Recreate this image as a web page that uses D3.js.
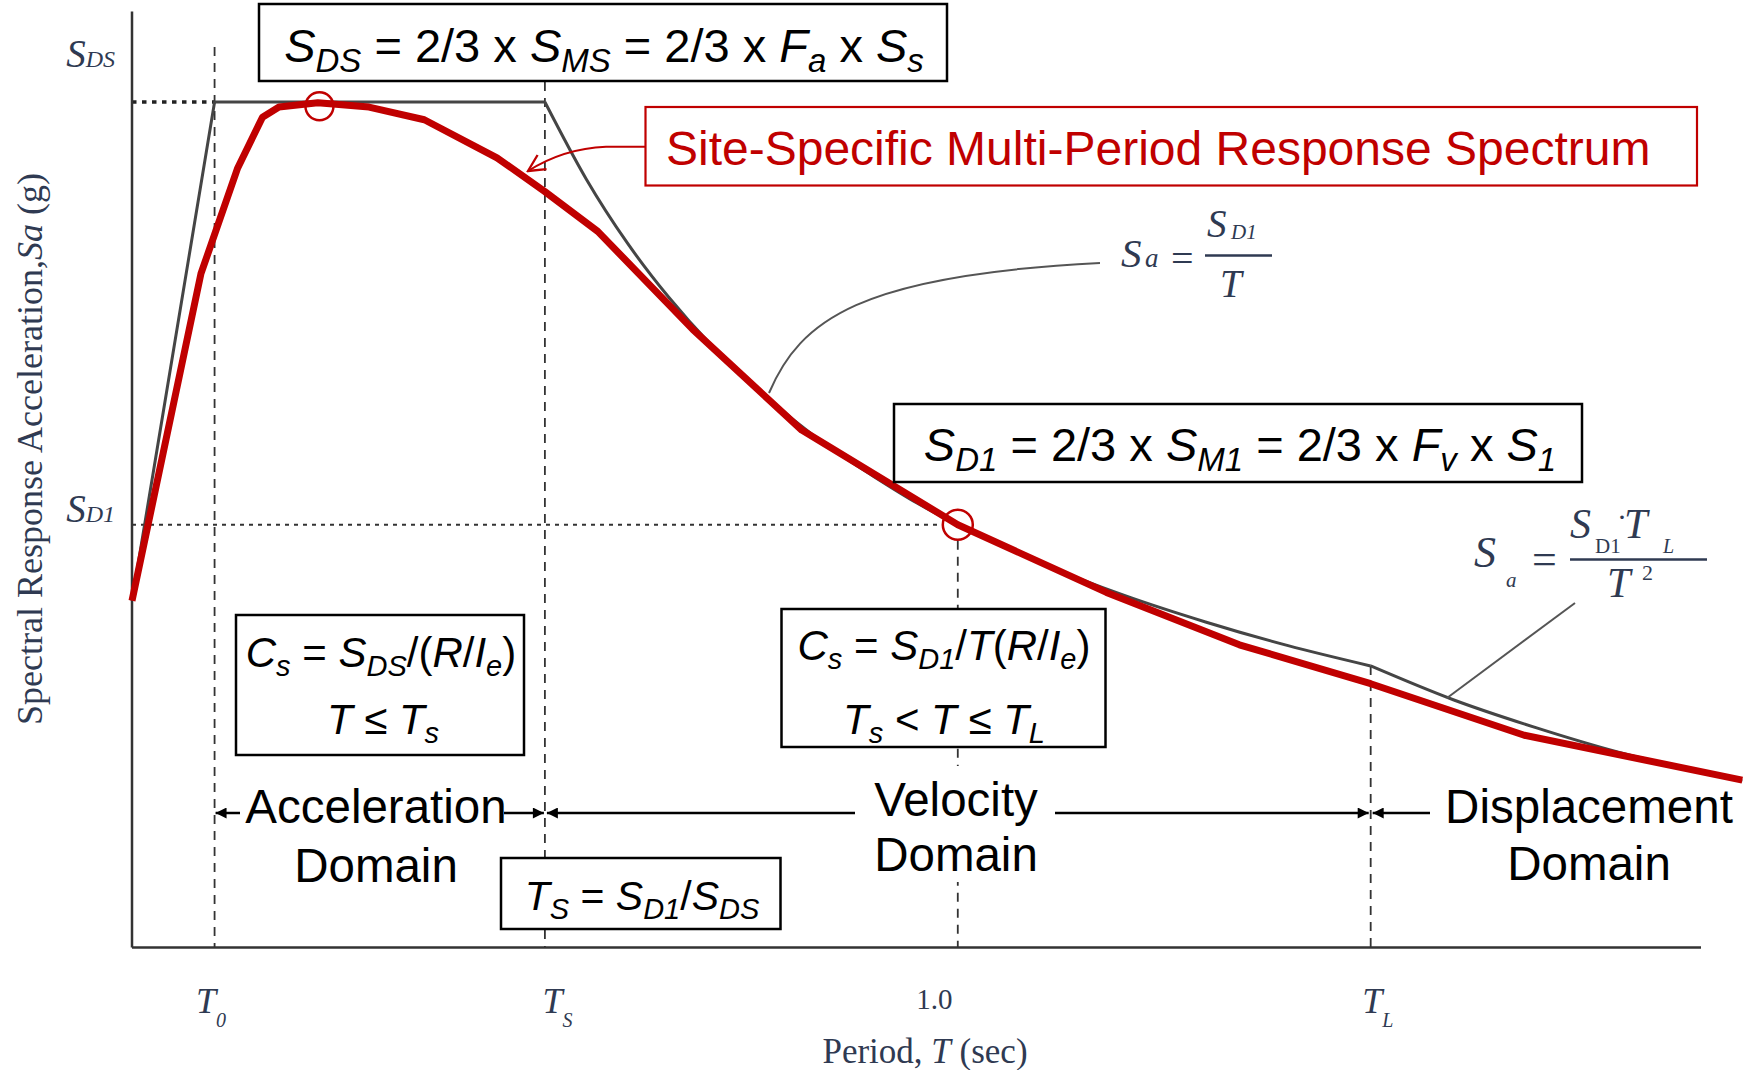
<!DOCTYPE html>
<html><head><meta charset="utf-8">
<script src="https://cdn.jsdelivr.net/npm/d3@7"></script>
<style>
html,body{margin:0;padding:0;background:#fff;}
svg{display:block;}
</style></head><body>
<svg id="chart" width="1752" height="1070"></svg>
<script>
// ---------- data ----------
const SDS = 1.0;                 // short-period design level (normalised)
const SD1 = 0.5;                 // 1-second design level
const T0 = 0.1, TS = 0.5, T1 = 1.0, TL = 1.5;
const periodTicks = [T0, TS, T1, TL];
const tickLabels = [[["T","i"],["0","ib"]], [["T","i"],["S","ib"]], [["1.0","n"]], [["T","i"],["L","ib"]]];
const xMax = 1.9, yMax = 1.107;

// code design spectrum (gray): rising branch + plateau, then descending branch
const designRiseT  = [0, 0.1, 0.5];
const designRiseSa = [0.41, 1.0, 1.0];
const designT  = [0.5, 0.55, 0.6, 0.65, 0.7, 0.75, 0.8, 0.85, 0.9, 0.95, 1.0, 1.1, 1.2, 1.3, 1.4, 1.5];
const designSa = [1.0, 0.909, 0.833, 0.769, 0.714, 0.667, 0.625, 0.588, 0.556, 0.526, 0.5, 0.455, 0.417, 0.385, 0.357, 0.333];
const designTailT  = [1.5, 1.6, 1.7, 1.8, 1.9, 1.95];
const designTailSa = [0.333, 0.293, 0.260, 0.231, 0.208, 0.197];

// site-specific multi-period spectrum (red)
const siteT  = [0, 0.0835, 0.128, 0.158, 0.178, 0.225, 0.287, 0.354, 0.442, 0.5, 0.564, 0.679, 0.811, 1.0, 1.18, 1.341, 1.5, 1.686, 1.95];
const siteSa = [0.41, 0.797, 0.922, 0.982, 0.994, 0.999, 0.994, 0.979, 0.934, 0.894, 0.847, 0.731, 0.612, 0.5, 0.42, 0.358, 0.312, 0.251, 0.198];

// highlighted points
const markT  = [0.227, 1.0];
const markSa = [0.995, 0.5];

// ---------- setup ----------
const svg = d3.select("#chart");
svg.append("rect").attr("width",1752).attr("height",1070).attr("fill","#fff");
const x = d3.scaleLinear().domain([0, xMax]).range([132, 1701]);
const y = d3.scaleLinear().domain([0, 1]).range([947.5, 102]);
const SERIF = "'Liberation Serif','Times New Roman',serif";
const SANS = "'Liberation Sans',Arial,sans-serif";
const LBL = "#2f3a52";
const RED = "#c00000";

const defs = svg.append("defs");
defs.append("marker").attr("id","af").attr("viewBox","0 0 10 10").attr("refX",10).attr("refY",5)
  .attr("markerUnits","userSpaceOnUse").attr("markerWidth",13).attr("markerHeight",11).attr("orient","auto")
  .append("path").attr("d","M0,0 L10,5 L0,10 z").attr("fill","#000");
defs.append("marker").attr("id","ao").attr("viewBox","0 0 12 12").attr("refX",11).attr("refY",6)
  .attr("markerUnits","userSpaceOnUse").attr("markerWidth",20).attr("markerHeight",20).attr("orient","auto")
  .append("path").attr("d","M1,1 L11,6 L1,11").attr("fill","none").attr("stroke",RED).attr("stroke-width",1.4);

function rich(parent, px, py, parts, o) {
  const t = parent.append("text").attr("x",px).attr("y",py)
    .attr("text-anchor", o.anchor || "middle")
    .style("font-family", o.family).style("font-size", o.size + "px")
    .attr("fill", o.fill || "#000");
  let shift = 0;
  parts.forEach(([s, st]) => {
    const ts = t.append("tspan").text(s);
    let target = 0, fs = o.size;
    if (st.includes("b")) { target = o.subShift || 0; fs = o.subSize; }
    if (st.includes("k")) { fs = o.subSize; }
    if (st.includes("i")) ts.style("font-style","italic");
    ts.style("font-size", fs + "px");
    if (target !== shift) { ts.attr("dy", target - shift); shift = target; }
    if (st.includes("b") && o.subDx) ts.attr("dx", o.subDx);
  });
  return t;
}

// ---------- reference lines ----------
const ref = svg.append("g");
ref.append("line").attr("x1",x(0)).attr("x2",x(T0)).attr("y1",y(SDS)).attr("y2",y(SDS))
  .attr("stroke","#222").attr("stroke-width",3.5).attr("stroke-dasharray","4.5,5.5");
ref.append("line").attr("x1",x(0)).attr("x2",x(T1)-16).attr("y1",y(SD1)).attr("y2",y(SD1))
  .attr("stroke","#333").attr("stroke-width",2).attr("stroke-dasharray","4,5");
const vTops = [47, 82, y(SD1)+16, y(designSa[designSa.length-1])];
periodTicks.forEach((t,i) => {
  ref.append("line").attr("x1",x(t)).attr("x2",x(t)).attr("y1",vTops[i]).attr("y2",y(0))
    .attr("stroke","#333").attr("stroke-width",1.8).attr("stroke-dasharray","9,7");
});

// ---------- axes ----------
const ax = svg.append("g");
ax.append("path").attr("d",`M${x(0)},${y(0)}H${x(xMax)}`).attr("stroke","#333").attr("stroke-width",2.5).attr("fill","none");
ax.append("path").attr("d",`M${x(0)},${y(0)}V${y(yMax)}`).attr("stroke","#333").attr("stroke-width",2.5).attr("fill","none");

const xAxisG = svg.append("g").attr("transform",`translate(0,${y(0)})`)
  .call(d3.axisBottom(x).tickValues(periodTicks).tickSize(0).tickFormat(""));
xAxisG.select(".domain").remove();
const tickDx = [-19, -3, -42, -9];
xAxisG.selectAll(".tick").each(function(d,i){
  const g = d3.select(this);
  g.selectAll("text").remove();
  if (i === 2) {
    rich(g, tickDx[i], 61, tickLabels[i], {family:SERIF, size:29, anchor:"start", fill:LBL});
  } else {
    rich(g, tickDx[i], 65, tickLabels[i], {family:SERIF, size:36, subSize:20, subShift:14, anchor:"start", fill:LBL});
  }
});

// axis titles
rich(svg, 925, 1063, [["Period, ","n"],["T","i"],[" (sec)","n"]], {family:SERIF, size:35, fill:LBL});
const yt = svg.append("g").attr("transform","translate(42,449) rotate(-90)");
rich(yt, 0, 0, [["Spectral Response Acceleration,","n"],["Sa","i"],[" (g)","n"]], {family:SERIF, size:36, fill:LBL});

// y labels
rich(svg, 115, y(SDS)-35, [["S","i"],["DS","ik"]], {family:SERIF, size:39, subSize:24, anchor:"end", fill:LBL});
rich(svg, 115, y(SD1)-2.5, [["S","i"],["D1","ik"]], {family:SERIF, size:39, subSize:24, anchor:"end", fill:LBL});

// ---------- curves ----------
const line = d3.line().x(d=>x(d[0])).y(d=>y(d[1]));
const smooth = d3.line().x(d=>x(d[0])).y(d=>y(d[1])).curve(d3.curveMonotoneX);
const gray = svg.append("g").attr("fill","none").attr("stroke","#454545").attr("stroke-width",3).attr("stroke-linejoin","round");
gray.append("path").datum(d3.zip(designRiseT, designRiseSa)).attr("d", line);
gray.append("path").datum(d3.zip(designT, designSa)).attr("d", smooth);
gray.append("path").datum(d3.zip(designTailT, designTailSa)).attr("d", smooth);
svg.append("path").datum(d3.zip(siteT, siteSa)).attr("d", line)
  .attr("fill","none").attr("stroke",RED).attr("stroke-width",7).attr("stroke-linejoin","round").attr("stroke-linecap","butt");
d3.zip(markT, markSa).forEach((p,i)=>{
  svg.append("circle").attr("cx",x(p[0])).attr("cy",y(p[1])).attr("r", i===0?14:15)
    .attr("fill","none").attr("stroke",RED).attr("stroke-width",2.5);
});

// ---------- leaders ----------
svg.append("path").attr("d","M769,393 C800,320 860,275 1100,263").attr("fill","none").attr("stroke","#555").attr("stroke-width",2);
svg.append("path").attr("d","M1575,603 L1447,698").attr("fill","none").attr("stroke","#555").attr("stroke-width",2);
svg.append("path").attr("d","M646,146.7 L606,146.7 C575,148 550,157 528,171").attr("fill","none")
  .attr("stroke",RED).attr("stroke-width",2).attr("marker-end","url(#ao)");

// ---------- boxes ----------
function box(x0,y0,x1,y1,stroke,sw){
  svg.append("rect").attr("x",x0).attr("y",y0).attr("width",x1-x0).attr("height",y1-y0)
    .attr("fill","#fff").attr("stroke",stroke).attr("stroke-width",sw);
}
box(259,4,947,81,"#000",2.5);
rich(svg, 604, 62, [["S","i"],["DS","ib"],[" = 2/3 x ","n"],["S","i"],["MS","ib"],[" = 2/3 x ","n"],["F","i"],["a","ib"],[" x ","n"],["S","i"],["s","ib"]],
  {family:SANS, size:47, subSize:33, subShift:10});

box(645.5,107,1697,185.5,RED,2.2);
svg.append("text").attr("x",666).attr("y",165).text("Site-Specific Multi-Period Response Spectrum")
  .style("font-family",SANS).style("font-size","48px").attr("fill",RED);

box(894,404,1582,482,"#000",2.5);
rich(svg, 1240, 461, [["S","i"],["D1","ib"],[" = 2/3 x ","n"],["S","i"],["M1","ib"],[" = 2/3 x ","n"],["F","i"],["v","ib"],[" x ","n"],["S","i"],["1","ib"]],
  {family:SANS, size:47, subSize:33, subShift:10});

box(236,615,524,755,"#000",2.5);
rich(svg, 381, 667, [["C","i"],["s","ib"],[" = ","n"],["S","i"],["DS","ib"],["/(","n"],["R","i"],["/","n"],["I","i"],["e","ib"],[")","n"]],
  {family:SANS, size:42, subSize:29, subShift:9});
rich(svg, 383, 734, [["T","i"],[" \u2264 ","n"],["T","i"],["s","ib"]], {family:SANS, size:42, subSize:29, subShift:9});

box(781.5,609,1105.5,747,"#000",2.5);
rich(svg, 944, 660, [["C","i"],["s","ib"],[" = ","n"],["S","i"],["D1","ib"],["/","n"],["T","i"],["(","n"],["R","i"],["/","n"],["I","i"],["e","ib"],[")","n"]],
  {family:SANS, size:42, subSize:29, subShift:9});
rich(svg, 944, 734, [["T","i"],["s","ib"],[" < ","n"],["T","i"],[" \u2264 ","n"],["T","i"],["L","ib"]], {family:SANS, size:42, subSize:29, subShift:9});

box(501,858,780.5,929,"#000",2.5);
rich(svg, 642, 910, [["T","i"],["S","ib"],[" = ","n"],["S","i"],["D1","ib"],["/","n"],["S","i"],["DS","ib"]],
  {family:SANS, size:41, subSize:29, subShift:9});

// ---------- domain labels ----------
svg.append("rect").attr("x",868).attr("y",766).attr("width",180).attr("height",116).attr("fill","#fff");
const dom = [
  {x:376, l1:"Acceleration", b1:823, b2:882},
  {x:956, l1:"Velocity", b1:816, b2:871},
  {x:1589, l1:"Displacement", b1:823, b2:880}
];
dom.forEach(d=>{
  svg.append("text").attr("x",d.x).attr("y",d.b1).attr("text-anchor","middle").text(d.l1)
    .style("font-family",SANS).style("font-size","47.5px").attr("fill","#000");
  svg.append("text").attr("x",d.x).attr("y",d.b2).attr("text-anchor","middle").text("Domain")
    .style("font-family",SANS).style("font-size","47.5px").attr("fill","#000");
});
const ay = 813;
[[240, x(T0)+1], [504, x(TS)-1], [855, x(TS)+2], [1055, x(TL)-2], [1430, x(TL)+2]].forEach(([a,b])=>{
  svg.append("line").attr("x1",a).attr("x2",b).attr("y1",ay).attr("y2",ay)
    .attr("stroke","#000").attr("stroke-width",2.5).attr("marker-end","url(#af)");
});

// ---------- formulas ----------
const fg = svg.append("g").attr("fill",LBL).style("font-family",SERIF).style("font-style","italic");
function ft(px,py,s,size,italic=true){
  fg.append("text").attr("x",px).attr("y",py).text(s).style("font-size",size+"px").style("font-style", italic?"italic":"normal");
}
// Sa = SD1 / T
ft(1121,267,"S",41); ft(1145,267,"a",27);
ft(1171,272,"=",40,false);
fg.append("line").attr("x1",1205).attr("x2",1272).attr("y1",255.5).attr("y2",255.5).attr("stroke",LBL).attr("stroke-width",2.5);
ft(1207,237,"S",39); ft(1231,239,"D1",21);
ft(1220,297,"T",39);
// Sa = SD1*TL / T^2
ft(1474,567,"S",44); ft(1506,587,"a",21);
ft(1532,574,"=",44,false);
fg.append("line").attr("x1",1570).attr("x2",1707).attr("y1",559.5).attr("y2",559.5).attr("stroke",LBL).attr("stroke-width",2.5);
ft(1570,538,"S",42); ft(1595,553,"D1",21,false);
ft(1617,527,"\u00b7",30,false);
ft(1624,538,"T",42); ft(1663,553,"L",20);
ft(1607,597,"T",42); ft(1642,580,"2",22,false);
</script>
</body></html>
